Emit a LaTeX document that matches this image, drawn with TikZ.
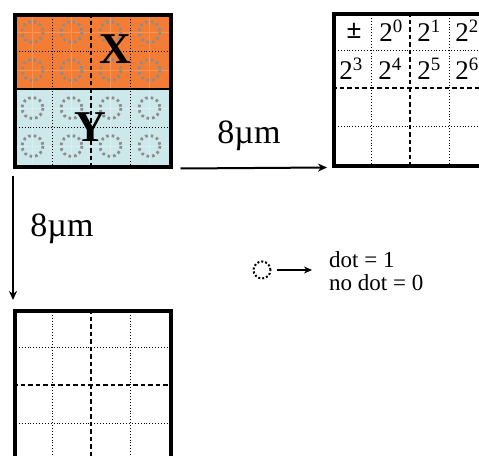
\documentclass[tikz,border=0pt]{standalone}
\usepackage{fontspec}
\setmainfont{Liberation Serif}
\usetikzlibrary{positioning,arrows.meta}
\definecolor{xorange}{RGB}{243,125,52}
\definecolor{xorangelt}{RGB}{250,150,85}
\definecolor{ycyan}{RGB}{204,232,234}
\definecolor{ycyanlt}{RGB}{216,238,240}
\definecolor{dotgray}{RGB}{140,140,140}
\tikzset{
  frame/.style={draw,line width=3.5pt,minimum width=156pt,minimum height=152pt,inner sep=0pt,anchor=north west},
  cellline/.style={line width=0.9pt,dotted},
  halfline/.style={line width=1.5pt,dash pattern=on 4.5pt off 3pt},
  bitdot/.style={dotgray,line width=2.8pt,dash pattern=on 2.6pt off 3pt},
  arr/.style={-{Stealth[length=9pt,width=8pt]},line width=2pt},
  lbl/.style={font=\fontsize{34}{36}\selectfont},
  bitlbl/.style={font=\fontsize{27}{28}\selectfont},
}
\begin{document}
\begin{tikzpicture}[x=1pt,y=-1pt]
\useasboundingbox (0,0) rectangle (479,455);
\clip (0,0) rectangle (479,455);
% X / Y halves
\fill[xorange] (13,13) rectangle (169,89);
\fill[ycyan] (13,89) rectangle (169,165);
\foreach \x in {32.5,71.5,110.5,149.5} {
  \draw[xorangelt,line width=1pt] (\x,13) -- (\x,89);
  \draw[ycyanlt,line width=0.8pt] (\x,89) -- (\x,165);
}
\foreach \y in {32,70} \draw[xorangelt,line width=1pt] (13,\y) -- (169,\y);
\foreach \y in {108,146} \draw[ycyanlt,line width=0.8pt] (13,\y) -- (169,\y);
% bit dots
\foreach \x in {32.5,71.5,110.5,149.5}
  \foreach \y in {32,70,108,146}
    \draw[bitdot] (\x,\y) circle (10.5);
% source grid
\foreach \x in {52,130} \draw[cellline] (\x,13) -- (\x,165);
\draw[halfline] (91,13) -- (91,165);
\foreach \y in {51,127} \draw[cellline] (13,\y) -- (169,\y);
\draw[line width=1.8pt] (13,89) -- (169,89);
\node[frame] (src) at (13,13) {};
\node[font=\fontsize{44}{44}\selectfont\bfseries] (xlab) at (115,49) {X};
\node[font=\fontsize{44}{44}\selectfont\bfseries] (ylab) at (90,127) {Y};
% bit layout grid
\node[frame] (dst) at (332,12) {};
\foreach \x in {371,449} \draw[cellline] (\x,12) -- (\x,164);
\draw[halfline] (410,12) -- (410,164);
\foreach \y in {50,126} \draw[cellline] (332,\y) -- (488,\y);
\draw[halfline] (332,88) -- (488,88);
\node[bitlbl] (bs) at (354,31) {\textbf{±}};
\node[bitlbl] (b0) at (391,31) {2\textsuperscript{0}};
\node[bitlbl] (b1) at (429,31) {2\textsuperscript{1}};
\node[bitlbl] (b2) at (467,31) {2\textsuperscript{2}};
\node[bitlbl] (b3) at (351,69) {2\textsuperscript{3}};
\node[bitlbl] (b4) at (390,69) {2\textsuperscript{4}};
\node[bitlbl] (b5) at (429,69) {2\textsuperscript{5}};
\node[bitlbl] (b6) at (467,69) {2\textsuperscript{6}};
% empty grid
\node[frame] (res) at (13,309) {};
\foreach \x in {52,130} \draw[cellline] (\x,309) -- (\x,461);
\draw[halfline] (91,309) -- (91,461);
\foreach \y in {347,423} \draw[cellline] (13,\y) -- (169,\y);
\draw[halfline] (13,385) -- (169,385);
% arrows
\draw[arr] ([xshift=8pt]src.south east) -- ([xshift=-5pt]dst.south west);
\draw[arr] ([yshift=-7pt]src.south west) -- ([yshift=9pt]res.north west);
\node[lbl] (hlab) at (249,136) {8µm};
\node[lbl] (vlab) at (62,229) {8µm};
% legend
\node[circle,draw,dotted,line width=2pt,minimum size=17pt,inner sep=0pt] (leg) at (262,270) {};
\node[align=left,anchor=west,inner sep=0pt,font=\fontsize{23}{23}\selectfont] (legtxt) at (329,271) {dot = 1\\no dot = 0};
\draw[-{Stealth[length=8pt,width=7pt]},line width=1.5pt,shorten <=5pt,shorten >=17pt] (leg.east) -- (leg.east -| legtxt.west);
\end{tikzpicture}
\end{document}
